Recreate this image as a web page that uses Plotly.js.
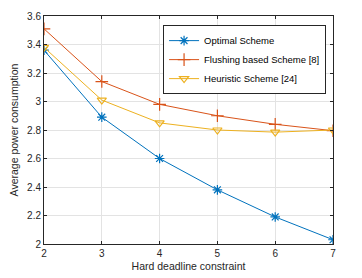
<!DOCTYPE html>
<html><head><meta charset="utf-8">
<script src="https://cdn.plot.ly/plotly-3.0.1.min.js"></script>
<style>html,body{margin:0;padding:0;background:#fff}#c{width:362px;height:278px}</style>
</head><body><div id="c"></div>
<script>
const deadlines = [2, 3, 4, 5, 6, 7];
const optimal = [3.36, 2.89, 2.60, 2.38, 2.19, 2.03];
const flushing = [3.51, 3.14, 2.98, 2.90, 2.84, 2.795];
const heuristic = [3.38, 3.01, 2.85, 2.80, 2.785, 2.80];
const seriesNames = ["Optimal Scheme", "Flushing based Scheme [8]", "Heuristic Scheme [24]"];

const axCol = '#262626';
const traces = [
  {x: deadlines, y: optimal, name: seriesNames[0], mode: 'lines+markers',
   line: {color: '#0072BD', width: 1}, marker: {symbol: 'asterisk-open', size: 8, color: '#0072BD', line: {color: '#0072BD', width: 1.2}}},
  {x: deadlines, y: flushing, name: seriesNames[1], mode: 'lines+markers',
   line: {color: '#D95319', width: 1}, marker: {symbol: 'cross-thin-open', size: 9, color: '#D95319', line: {color: '#D95319', width: 1.2}}},
  {x: deadlines, y: heuristic, name: seriesNames[2], mode: 'lines+markers',
   line: {color: '#EDB120', width: 1}, marker: {symbol: 'triangle-down-open', size: 8, color: '#EDB120', line: {color: '#EDB120', width: 1.2}}}
];
const layout = {
  width: 362, height: 278,
  margin: {l: 44, r: 29, t: 16, b: 34},
  paper_bgcolor: '#fff', plot_bgcolor: '#fff',
  font: {family: 'Liberation Sans, Arial, sans-serif', size: 10, color: axCol},
  showlegend: true,
  legend: {x: 0.412, y: 0.96, xanchor: 'left', yanchor: 'top', bgcolor: '#fff',
    bordercolor: axCol, borderwidth: 1, font: {size: 9.5, color: '#000'},
    tracegroupgap: 0, itemwidth: 30},
  xaxis: {range: [2, 7], dtick: 1, showgrid: true, gridcolor: '#e3e3e3', gridwidth: 1,
    showline: true, linecolor: axCol, linewidth: 1, mirror: 'allticks', ticks: 'inside', ticklen: 3,
    tickcolor: axCol, zeroline: false, tickfont: {size: 10, color: axCol},
    title: {text: 'Hard deadline constraint', font: {size: 10.5, color: axCol}, standoff: 4}},
  yaxis: {range: [2, 3.6], dtick: 0.2, showgrid: true, gridcolor: '#e3e3e3', gridwidth: 1,
    showline: true, linecolor: axCol, linewidth: 1, mirror: 'allticks', ticks: 'inside', ticklen: 3,
    tickcolor: axCol, zeroline: false, tickfont: {size: 10, color: axCol},
    title: {text: 'Average power consumption', font: {size: 10.5, color: axCol}, standoff: 6}}
};
Plotly.newPlot('c', traces, layout, {displayModeBar: false, staticPlot: true});
</script></body></html>
